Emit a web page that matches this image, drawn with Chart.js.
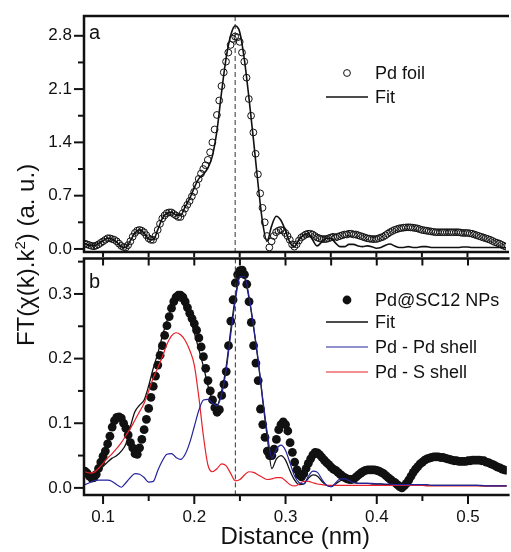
<!DOCTYPE html>
<html>
<head>
<meta charset="utf-8">
<script src="https://cdn.jsdelivr.net/npm/chart.js@4.4.1/dist/chart.umd.min.js"></script>
<style>
  body { margin: 0; background: #fff; width: 511px; height: 552px; position: relative; overflow: hidden;
         font-family: "Liberation Sans", Arial, sans-serif; }
  #topChart { position: absolute; left: 0; top: 0; }
  #botChart { position: absolute; left: 0; top: 254px; }
  #ytitle { position: absolute; width: 280px; height: 30px; line-height: 30px; left: -114px; top: 240px;
            text-align: center; font-size: 24px; color: #111; transform: rotate(-90deg); white-space: nowrap; }
  #ytitle sup { font-size: 15px; line-height: 0; }
</style>
</head>
<body>
<canvas id="topChart" width="511" height="257"></canvas>
<canvas id="botChart" width="511" height="298"></canvas>
<div id="ytitle">FT(&chi;(k).k<sup>2</sup>) (a. u.)</div>
<script>
// distance grid for the curves (nm)
const distance = [
  0.080, 0.085, 0.090, 0.095, 0.100, 0.105, 0.110, 0.115, 0.120, 0.125,
  0.130, 0.135, 0.140, 0.145, 0.150, 0.155, 0.160, 0.165, 0.170, 0.175,
  0.180, 0.185, 0.190, 0.195, 0.200, 0.205, 0.210, 0.215, 0.220, 0.225,
  0.230, 0.235, 0.240, 0.245, 0.250, 0.255, 0.260, 0.265, 0.270, 0.275,
  0.280, 0.285, 0.290, 0.295, 0.300, 0.305, 0.310, 0.315, 0.320, 0.325,
  0.330, 0.335, 0.340, 0.345, 0.350, 0.355, 0.360, 0.365, 0.370, 0.375,
  0.380, 0.385, 0.390, 0.395, 0.400, 0.405, 0.410, 0.415, 0.420, 0.425,
  0.430, 0.435, 0.440, 0.445, 0.450, 0.455, 0.460, 0.465, 0.470, 0.475,
  0.480, 0.485, 0.490, 0.495, 0.500, 0.505, 0.510, 0.515, 0.520, 0.525,
  0.530, 0.535, 0.540, 0.545
];

// distance grid for the measured points (nm)
const pointDistance = [
  0.0800, 0.0825, 0.0850, 0.0875, 0.0900, 0.0925, 0.0950, 0.0975, 0.1000, 0.1025,
  0.1050, 0.1075, 0.1100, 0.1125, 0.1150, 0.1175, 0.1200, 0.1225, 0.1250, 0.1275,
  0.1300, 0.1325, 0.1350, 0.1375, 0.1400, 0.1425, 0.1450, 0.1475, 0.1500, 0.1525,
  0.1550, 0.1575, 0.1600, 0.1625, 0.1650, 0.1675, 0.1700, 0.1725, 0.1750, 0.1775,
  0.1800, 0.1825, 0.1850, 0.1875, 0.1900, 0.1925, 0.1950, 0.1975, 0.2000, 0.2025,
  0.2050, 0.2075, 0.2100, 0.2125, 0.2150, 0.2175, 0.2200, 0.2225, 0.2250, 0.2275,
  0.2300, 0.2325, 0.2350, 0.2375, 0.2400, 0.2425, 0.2450, 0.2475, 0.2500, 0.2525,
  0.2550, 0.2575, 0.2600, 0.2625, 0.2650, 0.2675, 0.2700, 0.2725, 0.2750, 0.2775,
  0.2800, 0.2825, 0.2850, 0.2875, 0.2900, 0.2925, 0.2950, 0.2975, 0.3000, 0.3025,
  0.3050, 0.3075, 0.3100, 0.3125, 0.3150, 0.3175, 0.3200, 0.3225, 0.3250, 0.3275,
  0.3300, 0.3325, 0.3350, 0.3375, 0.3400, 0.3425, 0.3450, 0.3475, 0.3500, 0.3525,
  0.3550, 0.3575, 0.3600, 0.3625, 0.3650, 0.3675, 0.3700, 0.3725, 0.3750, 0.3775,
  0.3800, 0.3825, 0.3850, 0.3875, 0.3900, 0.3925, 0.3950, 0.3975, 0.4000, 0.4025,
  0.4050, 0.4075, 0.4100, 0.4125, 0.4150, 0.4175, 0.4200, 0.4225, 0.4250, 0.4275,
  0.4300, 0.4325, 0.4350, 0.4375, 0.4400, 0.4425, 0.4450, 0.4475, 0.4500, 0.4525,
  0.4550, 0.4575, 0.4600, 0.4625, 0.4650, 0.4675, 0.4700, 0.4725, 0.4750, 0.4775,
  0.4800, 0.4825, 0.4850, 0.4875, 0.4900, 0.4925, 0.4950, 0.4975, 0.5000, 0.5025,
  0.5050, 0.5075, 0.5100, 0.5125, 0.5150, 0.5175, 0.5200, 0.5225, 0.5250, 0.5275,
  0.5300, 0.5325, 0.5350, 0.5375, 0.5400, 0.5425, 0.5450
];

// panel a
const foilData = [
  0.07, 0.06, 0.05, 0.04, 0.035, 0.045, 0.06, 0.08, 0.10, 0.12,
  0.14, 0.14, 0.13, 0.12, 0.10, 0.07, 0.04, 0.025, 0.02, 0.05,
  0.10, 0.16, 0.21, 0.24, 0.25, 0.24, 0.22, 0.18, 0.14, 0.12,
  0.12, 0.17, 0.25, 0.33, 0.40, 0.44, 0.47, 0.48, 0.48, 0.46,
  0.44, 0.42, 0.42, 0.47, 0.53, 0.58, 0.63, 0.69, 0.75, 0.84,
  0.92, 0.99, 1.05, 1.10, 1.17, 1.27, 1.40, 1.57, 1.76, 1.95,
  2.14, 2.32, 2.46, 2.58, 2.68, 2.76, 2.79, 2.78, 2.72, 2.58,
  2.46, 2.25, 1.97, 1.75, 1.53, 1.25, 0.98, 0.73, 0.54, 0.35,
  0.17, 0.02, 0.10, 0.17, 0.22, 0.24, 0.25, 0.24, 0.21, 0.17,
  0.12, 0.06, 0.03, 0.06, 0.11, 0.15, 0.17, 0.19, 0.20, 0.20,
  0.19, 0.17, 0.15, 0.14, 0.13, 0.13, 0.13, 0.14, 0.15, 0.16,
  0.15, 0.16, 0.17, 0.18, 0.19, 0.19, 0.20, 0.20, 0.19, 0.19,
  0.18, 0.17, 0.16, 0.15, 0.14, 0.135, 0.13, 0.13, 0.13, 0.14,
  0.15, 0.16, 0.18, 0.20, 0.22, 0.235, 0.25, 0.26, 0.27, 0.275,
  0.28, 0.283, 0.285, 0.283, 0.28, 0.275, 0.27, 0.26, 0.25, 0.245,
  0.24, 0.235, 0.23, 0.225, 0.22, 0.22, 0.22, 0.22, 0.22, 0.22,
  0.22, 0.22, 0.22, 0.22, 0.22, 0.215, 0.21, 0.21, 0.21, 0.205,
  0.20, 0.19, 0.18, 0.17, 0.16, 0.15, 0.14, 0.13, 0.12, 0.105,
  0.09, 0.08, 0.07, 0.055, 0.04, 0.03, 0.02
];
const foilFit = [
  0.07, 0.05, 0.04, 0.07, 0.11, 0.14, 0.13, 0.09, 0.03, 0.02,
  0.11, 0.21, 0.25, 0.21, 0.13, 0.12, 0.25, 0.40, 0.47, 0.48,
  0.45, 0.44, 0.55, 0.66, 0.80, 0.92, 0.98, 1.06, 1.22, 1.55,
  2.05, 2.50, 2.80, 2.93, 2.85, 2.50, 2.00, 1.45, 0.87, 0.36,
  0.10, 0.30, 0.43, 0.38, 0.25, 0.09, 0.03, 0.12, 0.18, 0.20,
  0.12, 0.04, 0.09, 0.14, 0.14, 0.08, 0.03, 0.03, 0.06, 0.06,
  0.04, 0.03, 0.04, 0.03, 0.01, 0.02, 0.05, 0.065, 0.04, 0.02,
  0.02, 0.03, 0.02, 0.02, 0.03, 0.03, 0.02, 0.02, 0.02, 0.02,
  0.02, 0.02, 0.02, 0.025, 0.025, 0.02, 0.02, 0.02, 0.02, 0.02,
  0.02, 0.02, 0.02, 0.02
];

// panel b
const npData = [
  0.026, 0.023, 0.018, 0.015, 0.016, 0.021, 0.030, 0.040, 0.049, 0.057,
  0.068, 0.080, 0.094, 0.104, 0.109, 0.110, 0.108, 0.100, 0.092, 0.082,
  0.070, 0.062, 0.053, 0.052, 0.062, 0.075, 0.090, 0.106, 0.123, 0.140,
  0.157, 0.173, 0.190, 0.205, 0.220, 0.236, 0.251, 0.265, 0.278, 0.288,
  0.295, 0.298, 0.298, 0.295, 0.288, 0.279, 0.270, 0.262, 0.254, 0.244,
  0.232, 0.218, 0.203, 0.185, 0.166, 0.150, 0.136, 0.124, 0.117, 0.121,
  0.143, 0.160, 0.180, 0.220, 0.258, 0.291, 0.317, 0.330, 0.336, 0.337,
  0.330, 0.315, 0.288, 0.256, 0.220, 0.193, 0.166, 0.122, 0.098, 0.078,
  0.057, 0.050, 0.050, 0.060, 0.075, 0.090, 0.098, 0.102, 0.098, 0.088,
  0.070, 0.055, 0.040, 0.028, 0.020, 0.017, 0.022, 0.030, 0.038, 0.045,
  0.051, 0.055, 0.054, 0.051, 0.047, 0.043, 0.039, 0.036, 0.032, 0.029,
  0.027, 0.024, 0.021, 0.018, 0.016, 0.014, 0.013, 0.013, 0.014, 0.017,
  0.020, 0.023, 0.025, 0.027, 0.028, 0.028, 0.028, 0.028, 0.027, 0.026,
  0.024, 0.022, 0.019, 0.016, 0.013, 0.010, 0.008, 0.005, 0.002, 0.000,
  0.003, 0.007, 0.012, 0.018, 0.024, 0.029, 0.033, 0.037, 0.040, 0.043,
  0.045, 0.046, 0.047, 0.048, 0.048, 0.048, 0.047, 0.047, 0.046, 0.045,
  0.044, 0.043, 0.042, 0.042, 0.041, 0.041, 0.041, 0.041, 0.042, 0.042,
  0.043, 0.043, 0.043, 0.043, 0.042, 0.042, 0.040, 0.039, 0.037, 0.036,
  0.034, 0.032, 0.031, 0.029, 0.028, 0.027, 0.026
];
const npFit = [
  0.025, 0.023, 0.022, 0.027, 0.033, 0.040, 0.046, 0.050, 0.057, 0.068,
  0.095, 0.118, 0.128, 0.136, 0.158, 0.185, 0.208, 0.235, 0.258, 0.278,
  0.290, 0.289, 0.277, 0.262, 0.240, 0.214, 0.188, 0.158, 0.135, 0.128,
  0.150, 0.188, 0.245, 0.295, 0.328, 0.325, 0.293, 0.248, 0.196, 0.135,
  0.078, 0.030, 0.045, 0.050, 0.043, 0.026, 0.012, 0.005, 0.006, 0.015,
  0.020, 0.018, 0.010, 0.004, 0.002, 0.006, 0.011, 0.013, 0.012, 0.009,
  0.007, 0.007, 0.007, 0.006, 0.006, 0.006, 0.005, 0.005, 0.005, 0.005,
  0.005, 0.005, 0.005, 0.005, 0.005, 0.004, 0.004, 0.004, 0.004, 0.004,
  0.004, 0.004, 0.004, 0.004, 0.004, 0.004, 0.004, 0.003, 0.003, 0.003,
  0.003, 0.003, 0.003, 0.003
];
const pdPdShell = [
  0.005, 0.008, 0.011, 0.012, 0.012, 0.012, 0.010, 0.005, 0.001, 0.008,
  0.016, 0.022, 0.021, 0.016, 0.009, 0.010, 0.027, 0.042, 0.052, 0.053,
  0.047, 0.044, 0.052, 0.070, 0.095, 0.120, 0.136, 0.137, 0.131, 0.127,
  0.145, 0.183, 0.238, 0.290, 0.326, 0.327, 0.296, 0.250, 0.198, 0.138,
  0.085, 0.046, 0.060, 0.066, 0.058, 0.038, 0.018, 0.008, 0.006, 0.018,
  0.026, 0.024, 0.013, 0.004, 0.002, 0.008, 0.014, 0.014, 0.011, 0.008,
  0.007, 0.007, 0.007, 0.007, 0.006, 0.006, 0.006, 0.006, 0.005, 0.005,
  0.005, 0.005, 0.005, 0.005, 0.005, 0.005, 0.004, 0.004, 0.004, 0.004,
  0.004, 0.004, 0.004, 0.004, 0.004, 0.004, 0.004, 0.004, 0.003, 0.003,
  0.003, 0.003, 0.003, 0.003
];
const pdSShell = [
  0.025, 0.023, 0.024, 0.030, 0.038, 0.046, 0.053, 0.061, 0.070, 0.081,
  0.092, 0.105, 0.118, 0.131, 0.150, 0.170, 0.186, 0.203, 0.222, 0.235,
  0.240, 0.237, 0.228, 0.213, 0.190, 0.140, 0.080, 0.035, 0.025, 0.030,
  0.037, 0.034, 0.022, 0.011, 0.013, 0.020, 0.025, 0.024, 0.020, 0.016,
  0.013, 0.014, 0.016, 0.016, 0.011, 0.005, 0.003, 0.006, 0.010, 0.010,
  0.008, 0.006, 0.005, 0.004, 0.004, 0.004, 0.004, 0.004, 0.004, 0.004,
  0.004, 0.004, 0.004, 0.004, 0.004, 0.004, 0.004, 0.004, 0.004, 0.004,
  0.004, 0.004, 0.004, 0.004, 0.004, 0.003, 0.003, 0.003, 0.003, 0.003,
  0.003, 0.003, 0.003, 0.003, 0.003, 0.003, 0.003, 0.003, 0.003, 0.003,
  0.003, 0.003, 0.003, 0.003
];

const refDistance = 0.245;   // dashed line
const xRange = [0.0791, 0.5423];
const yRangeA = [-0.04, 3.06];
const yRangeB = [-0.011, 0.355];

const FONT = '"Liberation Sans", Arial, sans-serif';
const INK = '#111';
const BLUE = '#23239a';
const RED = '#e8202a';

const pts = (xs, ys) => xs.map((x, i) => ({ x: x, y: ys[i] }));
const isMultiple = (v, step) => Math.abs(v / step - Math.round(v / step)) < 1e-6;

const panelFrame = {
  id: 'panelFrame',
  afterDatasetsDraw(chart, args, o) {
    const { ctx, chartArea: a, scales } = chart;
    ctx.save();
    // dashed reference line
    const xr = scales.x.getPixelForValue(refDistance);
    ctx.strokeStyle = '#333';
    ctx.lineWidth = 1;
    ctx.setLineDash([5, 3]);
    ctx.beginPath(); ctx.moveTo(xr, a.top); ctx.lineTo(xr, a.bottom); ctx.stroke();
    ctx.setLineDash([]);

    // frame
    ctx.strokeStyle = INK;
    ctx.lineWidth = 2.5;
    ctx.beginPath();
    ctx.moveTo(a.right + 3, a.top); ctx.lineTo(a.left, a.top);
    ctx.lineTo(a.left, a.bottom); ctx.lineTo(a.right + 3, a.bottom);
    ctx.stroke();

    // tick marks
    ctx.lineWidth = 2;
    scales.x.ticks.forEach(t => {
      const px = scales.x.getPixelForValue(t.value);
      const len = isMultiple(t.value, 0.1) ? 9 : 6;
      ctx.beginPath();
      ctx.moveTo(px, a.bottom); ctx.lineTo(px, a.bottom + len);
      if (o.topTicks) { ctx.moveTo(px, a.top); ctx.lineTo(px, a.top + 7); }
      ctx.stroke();
    });
    scales.y.ticks.forEach(t => {
      const py = scales.y.getPixelForValue(t.value);
      const len = isMultiple(t.value, o.majorY) ? 10 : 6;
      ctx.beginPath(); ctx.moveTo(a.left, py); ctx.lineTo(a.left - len, py); ctx.stroke();
    });

    // panel letter
    ctx.fillStyle = INK;
    ctx.font = '20px ' + FONT;
    ctx.textBaseline = 'alphabetic';
    ctx.textAlign = 'left';
    ctx.fillText(o.letter, 89, a.top + o.letterDy);

    // legend
    ctx.font = '18px ' + FONT;
    ctx.textBaseline = 'middle';
    o.legend.forEach(item => {
      const ds = chart.data.datasets[item.ds];
      if (item.kind === 'line') {
        ctx.strokeStyle = ds.borderColor;
        ctx.lineWidth = ds.borderWidth;
        ctx.beginPath(); ctx.moveTo(326, item.y); ctx.lineTo(368, item.y); ctx.stroke();
      } else {
        ctx.beginPath();
        ctx.arc(347, item.y, ds.pointRadius, 0, Math.PI * 2);
        ctx.lineWidth = ds.pointBorderWidth;
        ctx.strokeStyle = ds.pointBorderColor;
        ctx.fillStyle = ds.pointBackgroundColor;
        ctx.fill();
        if (ds.pointBorderWidth > 0) ctx.stroke();
      }
      ctx.fillStyle = INK;
      ctx.fillText(ds.label, 375, item.y + 1);
    });
    ctx.restore();
  }
};

function xScale(showLabels, height) {
  return {
    type: 'linear', min: xRange[0], max: xRange[1],
    grid: { display: false, drawTicks: false },
    border: { display: false },
    afterFit: s => { s.height = height; s.paddingLeft = 0; s.paddingRight = 0; },
    ticks: {
      display: showLabels, stepSize: 0.05, includeBounds: false, autoSkip: false, maxRotation: 0,
      padding: 12, color: INK, font: { family: FONT, size: 17 },
      callback: v => isMultiple(v, 0.1) ? v.toFixed(1) : ''
    },
    title: { display: showLabels, text: 'Distance (nm)', color: INK, padding: { top: 0, bottom: 0 },
             font: { family: FONT, size: 24 } }
  };
}
function yScale(range, step, major) {
  return {
    type: 'linear', min: range[0], max: range[1],
    grid: { display: false, drawTicks: false },
    border: { display: false },
    afterFit: s => { s.width = 84; s.paddingTop = 0; s.paddingBottom = 0; },
    ticks: {
      stepSize: step, includeBounds: false, autoSkip: false, padding: 12,
      color: INK, font: { family: FONT, size: 17 },
      callback: v => isMultiple(v, major) ? v.toFixed(1) : ''
    }
  };
}

const lineDs = (label, ys, color, width) => ({
  label: label, data: pts(distance, ys), showLine: true, borderColor: color, borderWidth: width,
  pointRadius: 0, cubicInterpolationMode: 'monotone', fill: false
});

new Chart(document.getElementById('topChart'), {
  type: 'scatter',
  data: {
    datasets: [
      lineDs('Fit', foilFit, INK, 1.6),
      { label: 'Pd foil', data: pts(pointDistance, foilData), showLine: false, pointRadius: 3.4,
        pointBorderWidth: 1, pointBorderColor: INK, pointBackgroundColor: 'rgba(255,255,255,0)' }
    ]
  },
  options: {
    responsive: false, animation: false, events: [],
    layout: { padding: { top: 16, right: 0, left: 0, bottom: 0 } },
    scales: { x: xScale(false, 4), y: yScale(yRangeA, 0.35, 0.7) },
    plugins: {
      legend: { display: false }, tooltip: { enabled: false },
      panelFrame: { letter: 'a', letterDy: 23, majorY: 0.7, topTicks: false,
        legend: [{ ds: 1, kind: 'point', y: 73 }, { ds: 0, kind: 'line', y: 97 }] }
    }
  },
  plugins: [panelFrame]
});

new Chart(document.getElementById('botChart'), {
  type: 'scatter',
  data: {
    datasets: [
      lineDs('Pd - Pd shell', pdPdShell, BLUE, 1.2),
      lineDs('Pd - S shell', pdSShell, RED, 1.2),
      lineDs('Fit', npFit, INK, 1.3),
      { label: 'Pd@SC12 NPs', data: pts(pointDistance, npData), showLine: false, pointRadius: 4.4,
        pointBorderWidth: 0, pointBorderColor: INK, pointBackgroundColor: INK }
    ]
  },
  options: {
    responsive: false, animation: false, events: [],
    layout: { padding: { top: 3, right: 0, left: 0, bottom: 0 } },
    scales: { x: xScale(true, 57), y: yScale(yRangeB, 0.05, 0.1) },
    plugins: {
      legend: { display: false }, tooltip: { enabled: false },
      panelFrame: { letter: 'b', letterDy: 30, majorY: 0.1, topTicks: true,
        legend: [{ ds: 3, kind: 'point', y: 46 }, { ds: 2, kind: 'line', y: 68 },
                 { ds: 0, kind: 'line', y: 93 }, { ds: 1, kind: 'line', y: 118 }] }
    }
  },
  plugins: [panelFrame]
});
</script>
</body>
</html>
